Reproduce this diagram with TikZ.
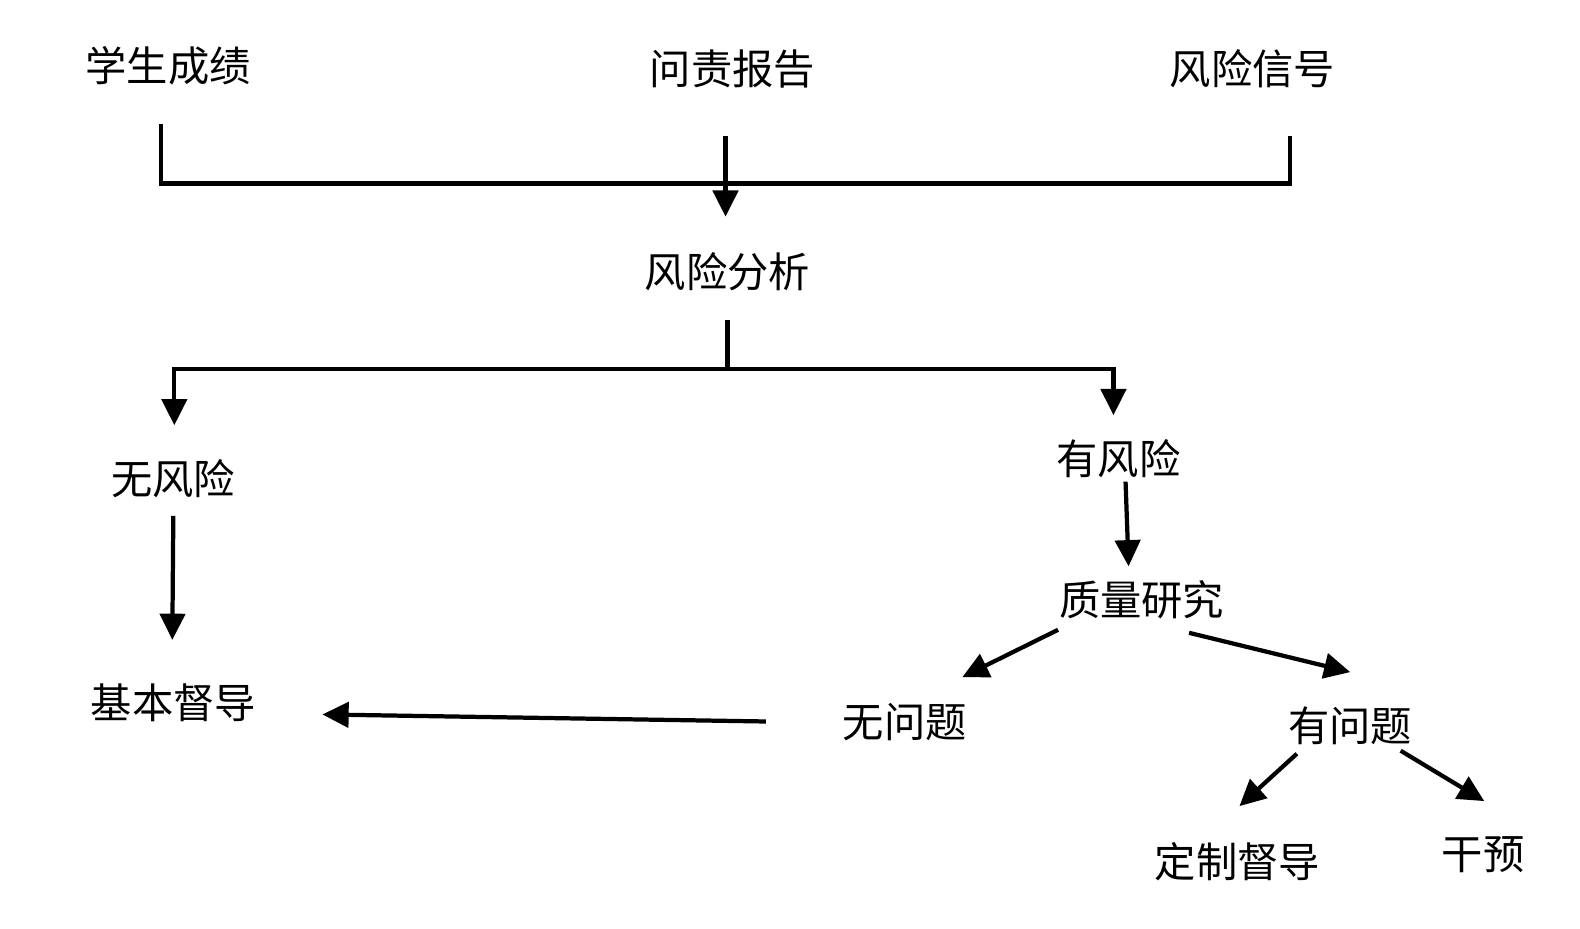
\documentclass[tikz,border=0pt]{standalone}
\usepackage{fontspec}
\setmainfont{Noto Sans CJK SC}
\usetikzlibrary{arrows.meta}
\definecolor{ink}{HTML}{000000}

\begin{document}
\begin{tikzpicture}[
  x=1pt, y=-1pt,
  label/.style={
    inner sep=0pt, text=ink,
    font=\fontsize{41}{44}\selectfont
  },
  link/.style={line width=4.2pt, draw=ink},
  arrow/.style={-{Triangle[length=26pt,width=25pt]}, line width=4.2pt, draw=ink}
]
\useasboundingbox (0,0) rectangle (1568,921);

\node[label] (grades) at (167,65) {学生成绩};
\node[label] (report) at (727,68) {问责报告};
\node[label] (signal) at (1243,68) {风险信号};

\node[label] (analysis) at (722,270) {风险分析};

\node[label] (norisk) at (172,475) {无风险};
\node[label] (risk) at (1110,455) {有风险};
\node[label] (quality) at (1133,595) {质量研究};

\node[label] (basic) at (172,697) {基本督导};
\node[label] (noissue) at (898,717) {无问题};
\node[label] (issue) at (1340,720) {有问题};

\node[label] (custom) at (1228,855) {定制督导};
\node[label] (intervene) at (1472,848) {干预};

% inputs gathered on one bar
\coordinate (barR) at (1280,182);
\draw[link] ([shift={(-7,58)}]grades.center) |- (barR)
  -- ([shift={(37,67)}]signal.center);
\draw[arrow] ([shift={(-7,67)}]report.center) -- ([shift={(-2,-55)}]analysis.center);

% split after the analysis
\coordinate (split) at (722,366);
\draw[link] ([shift={(0,48)}]analysis.center) -- (split);
\draw[arrow] (split) -| ([shift={(1,-53)}]norisk.center);
\draw[arrow] (split) -| ([shift={(-5,-43)}]risk.center);

\draw[arrow] ([shift={(0,37)}]norisk.center) -- ([shift={(-1,-62)}]basic.center);
\draw[arrow] ([shift={(7,23)}]risk.center) -- ([shift={(-13,-33)}]quality.center);

\draw[arrow] ([shift={(-83,30)}]quality.center) -- ([shift={(57,-45)}]noissue.center);
\draw[arrow] ([shift={(47,33)}]quality.center) -- ([shift={(0,-53)}]issue.center);
\draw[arrow] ([shift={(-138,-1)}]noissue.center) -- ([shift={(148,12)}]basic.center);

\draw[arrow] ([shift={(-53,28)}]issue.center) -- ([shift={(2,-55)}]custom.center);
\draw[arrow] ([shift={(50,25)}]issue.center) -- ([shift={(1,-53)}]intervene.center);

\end{tikzpicture}
\end{document}
